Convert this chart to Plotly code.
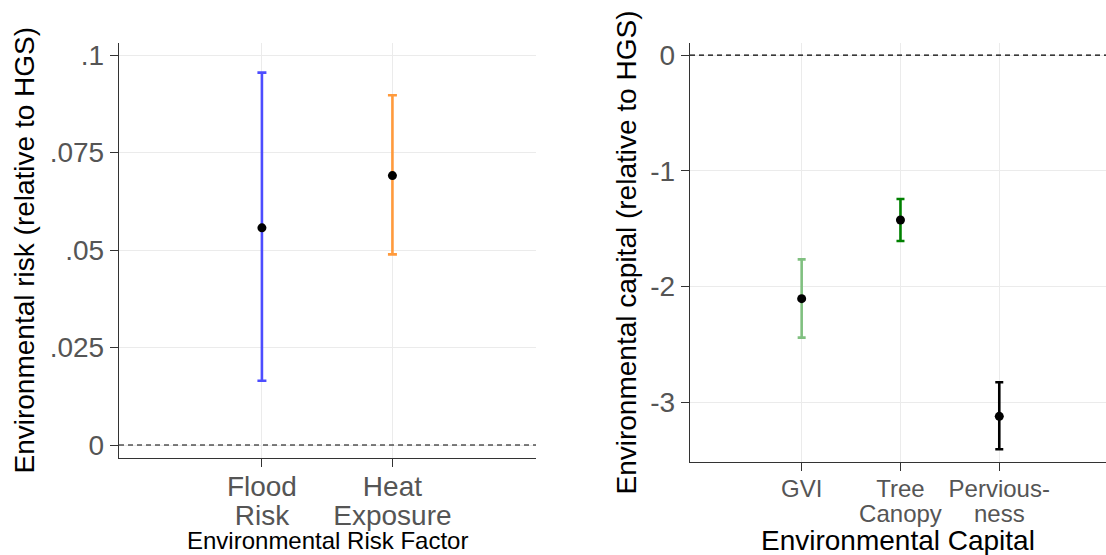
import plotly.graph_objects as go

W, H = 1106, 555

# ---- data: left panel (environmental risk) ----
risk_line1 = ["Flood", "Heat"]
risk_line2 = ["Risk", "Exposure"]
risk_est = [0.0557, 0.0691]
risk_lo = [0.0165, 0.0489]
risk_hi = [0.0955, 0.0897]
risk_colors = ["#4d4dff", "#ff9a3c"]
risk_ticks = [0, 0.025, 0.05, 0.075, 0.1]
risk_ticktext = ["0", ".025", ".05", ".075", ".1"]

# ---- data: right panel (environmental capital) ----
cap_line1 = ["GVI", "Tree", "Pervious-"]
cap_line2 = ["", "Canopy", "ness"]
cap_est = [-2.106, -1.426, -3.123]
cap_lo = [-2.443, -1.608, -3.408]
cap_hi = [-1.766, -1.245, -2.829]
cap_colors = ["#80c080", "#008000", "#000000"]
cap_ticks = [0, -1, -2, -3]
cap_ticktext = ["0", "-1", "-2", "-3"]

FONT = "Arial, Liberation Sans, sans-serif"
TICKC = "#555555"
GRID = "#ebebeb"

fig = go.Figure()

for i, name in enumerate(risk_line1):
    fig.add_trace(go.Scatter(
        x=[i], y=[risk_est[i]], mode="markers", xaxis="x", yaxis="y",
        marker=dict(color="black", size=9),
        error_y=dict(type="data", symmetric=False,
                     array=[risk_hi[i] - risk_est[i]],
                     arrayminus=[risk_est[i] - risk_lo[i]],
                     color=risk_colors[i], thickness=2.6, width=4.5),
        showlegend=False, hoverinfo="skip"))

for i, name in enumerate(cap_line1):
    fig.add_trace(go.Scatter(
        x=[i], y=[cap_est[i]], mode="markers", xaxis="x2", yaxis="y2",
        marker=dict(color="black", size=9),
        error_y=dict(type="data", symmetric=False,
                     array=[cap_hi[i] - cap_est[i]],
                     arrayminus=[cap_est[i] - cap_lo[i]],
                     color=cap_colors[i], thickness=2.6, width=4),
        showlegend=False, hoverinfo="skip"))

# invisible helper traces for the overlaid second-line label axes
fig.add_trace(go.Scatter(x=list(range(len(risk_line2))), y=risk_est, mode="markers",
                         xaxis="x3", yaxis="y", marker=dict(opacity=0),
                         showlegend=False, hoverinfo="skip"))
fig.add_trace(go.Scatter(x=list(range(len(cap_line2))), y=cap_est, mode="markers",
                         xaxis="x4", yaxis="y2", marker=dict(opacity=0),
                         showlegend=False, hoverinfo="skip"))

def px_x(p):
    return p / W

def px_y(p):
    return (H - p) / H

L_dom = [px_x(119), px_x(536)]
R_dom = [px_x(690), 1.0]
L_ydom = [px_y(458), px_y(43)]
R_ydom = [px_y(462), px_y(43)]

L_xrange = [-1.095, 2.10]
R_xrange = [-1.13, 3.08]

common_x = dict(showgrid=True, gridcolor=GRID, gridwidth=1.2, zeroline=False,
                showline=True, linecolor="#333333", linewidth=1.4,
                ticks="outside", ticklen=8, tickcolor="#333333", tickwidth=1.2,
                automargin=False, fixedrange=True)
common_y = dict(showgrid=True, gridcolor=GRID, gridwidth=1.2, zeroline=False,
                showline=True, linecolor="#333333", linewidth=1.4,
                ticks="outside", ticklen=8, tickcolor="#333333", tickwidth=1.2,
                automargin=False, fixedrange=True)

fig.update_layout(
    width=W, height=H,
    margin=dict(l=0, r=0, t=0, b=0),
    paper_bgcolor="white", plot_bgcolor="white",
    font=dict(family=FONT),
    xaxis=dict(common_x, domain=L_dom, anchor="y", range=L_xrange,
               tickmode="array", tickvals=list(range(len(risk_line1))),
               ticktext=risk_line1, tickfont=dict(size=28, color=TICKC),
               ticklabelstandoff=-5),
    xaxis3=dict(overlaying="x", anchor="y", range=L_xrange, showgrid=False,
                zeroline=False, showline=False, ticks="", automargin=False,
                tickmode="array", tickvals=list(range(len(risk_line2))),
                ticktext=risk_line2, tickfont=dict(size=28, color=TICKC),
                ticklabelstandoff=38, fixedrange=True),
    yaxis=dict(common_y, domain=L_ydom, anchor="x", range=[-0.00333, 0.1031],
               tickmode="array", tickvals=risk_ticks, ticktext=risk_ticktext,
               tickfont=dict(size=28, color=TICKC)),
    xaxis2=dict(common_x, domain=R_dom, anchor="y2", range=R_xrange,
                tickmode="array", tickvals=list(range(len(cap_line1))),
                ticktext=cap_line1, tickfont=dict(size=24, color=TICKC),
                ticklabelstandoff=-3),
    xaxis4=dict(overlaying="x2", anchor="y2", range=R_xrange, showgrid=False,
                zeroline=False, showline=False, ticks="", automargin=False,
                tickmode="array", tickvals=list(range(len(cap_line2))),
                ticktext=cap_line2, tickfont=dict(size=24, color=TICKC),
                ticklabelstandoff=35, fixedrange=True),
    yaxis2=dict(common_y, domain=R_ydom, anchor="x2", range=[-3.518, 0.104],
                tickmode="array", tickvals=cap_ticks, ticktext=cap_ticktext,
                tickfont=dict(size=28, color=TICKC)),
)

# dashed zero reference lines
fig.add_shape(type="line", xref="x domain", yref="y", x0=0, x1=1, y0=0, y1=0,
              line=dict(color="black", width=1.2, dash="5px,4px"))
fig.add_shape(type="line", xref="x2 domain", yref="y2", x0=0, x1=1, y0=0, y1=0,
              line=dict(color="black", width=1.2, dash="5px,4px"))

# axis titles
fig.add_annotation(text="Environmental risk (relative to HGS)", textangle=-90,
                   xref="paper", x=px_x(24), yref="y domain", y=0.5,
                   xanchor="center", yanchor="middle", showarrow=False,
                   font=dict(size=28, color="black"))
fig.add_annotation(text="Environmental Risk Factor",
                   xref="x domain", x=0.5, yref="paper", y=px_y(540),
                   xanchor="center", yanchor="middle", showarrow=False,
                   font=dict(size=24, color="black"))
fig.add_annotation(text="Environmental capital (relative to HGS)", textangle=-90,
                   xref="paper", x=px_x(626), yref="y2 domain", y=0.5,
                   xanchor="center", yanchor="middle", showarrow=False,
                   font=dict(size=28, color="black"))
fig.add_annotation(text="Environmental Capital",
                   xref="x2 domain", x=0.5, yref="paper", y=px_y(540),
                   xanchor="center", yanchor="middle", showarrow=False,
                   font=dict(size=28, color="black"))

fig.write_html("out.html",
               config={"displayModeBar": False},
               post_script="document.body.style.margin='0px';"
                           "document.body.style.overflow='hidden';")
